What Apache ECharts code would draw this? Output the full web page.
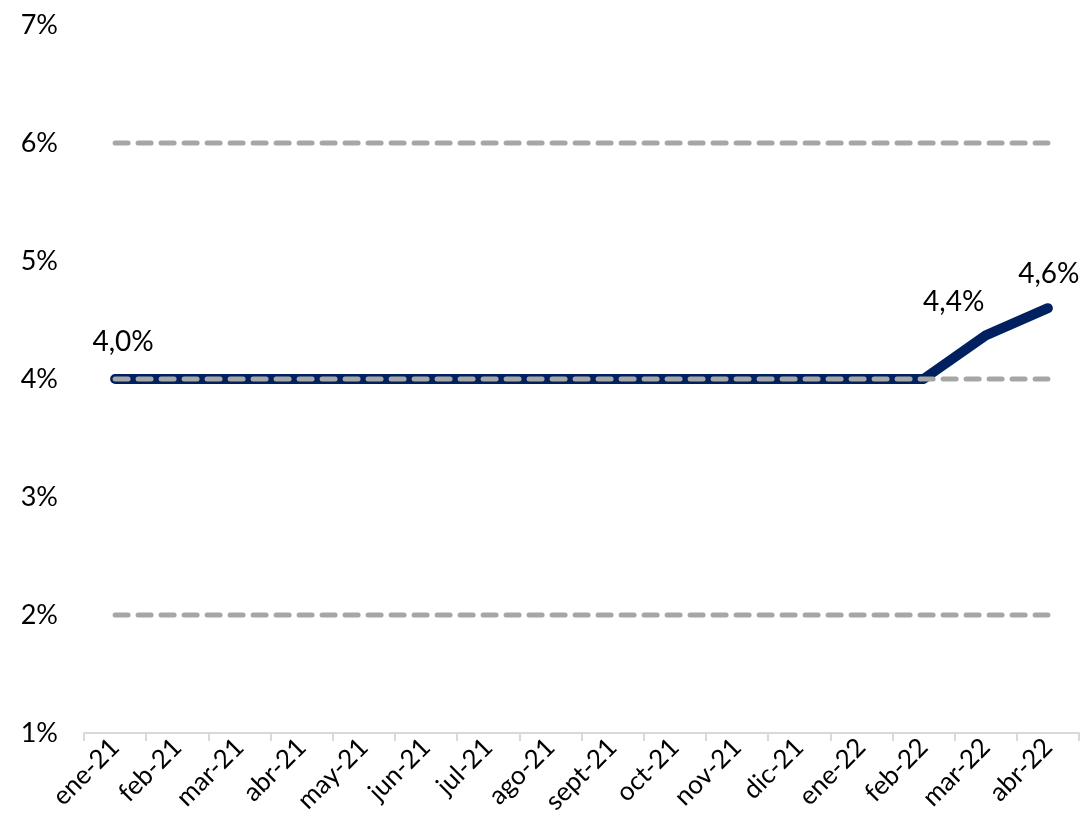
<!DOCTYPE html>
<html>
<head>
<meta charset="utf-8">
<script src="https://cdn.jsdelivr.net/npm/echarts@6/dist/echarts.min.js"></script>
<style>
  html, body { margin: 0; padding: 0; background: #fff; }
  #chart { width: 1081px; height: 825px; }
</style>
</head>
<body>
<div id="chart"></div>
<script>
  // meses
  var months = ['ene-21', 'feb-21', 'mar-21', 'abr-21', 'may-21', 'jun-21', 'jul-21', 'ago-21',
    'sept-21', 'oct-21', 'nov-21', 'dic-21', 'ene-22', 'feb-22', 'mar-22', 'abr-22'];
  // tasa (%)
  var rate = [4.0, 4.0, 4.0, 4.0, 4.0, 4.0, 4.0, 4.0, 4.0, 4.0, 4.0, 4.0, 4.0, 4.0, 4.37, 4.6];
  // rango meta
  var upper = [6, 6, 6, 6, 6, 6, 6, 6, 6, 6, 6, 6, 6, 6, 6, 6];
  var target = [4, 4, 4, 4, 4, 4, 4, 4, 4, 4, 4, 4, 4, 4, 4, 4];
  var lower = [2, 2, 2, 2, 2, 2, 2, 2, 2, 2, 2, 2, 2, 2, 2, 2];
  var labelled = [0, 14, 15];

  var font = 'Lato, "Noto Sans", sans-serif';
  var chart = echarts.init(document.getElementById('chart'));

  var dashStyle = {
    color: '#a6a6a6',
    width: 5,
    type: [13, 10],
    cap: 'round'
  };
  function refLine(data) {
    return {
      type: 'line',
      data: data,
      symbol: 'none',
      silent: true,
      lineStyle: dashStyle,
      z: 3
    };
  }

  // posición de etiqueta relativa al punto
  var labelPos = {
    0: [8, -37],
    14: [-32, -33],
    15: [1, -34]
  };

  chart.setOption({
    animation: false,
    grid: { left: 84, right: 2, top: 25, bottom: 92 },
    xAxis: {
      type: 'category',
      data: months,
      boundaryGap: true,
      axisLine: { lineStyle: { color: '#d9d9d9', width: 2 } },
      axisTick: { show: true, length: 8, lineStyle: { color: '#d9d9d9', width: 2 } },
      axisLabel: {
        rotate: 45,
        interval: 0,
        margin: 10,
        color: '#000',
        fontSize: 26,
        fontFamily: font
      }
    },
    yAxis: {
      type: 'value',
      min: 1,
      max: 7,
      interval: 1,
      splitLine: { show: false },
      axisLine: { show: false },
      axisTick: { show: false },
      axisLabel: {
        formatter: '{value}%',
        color: '#000',
        fontSize: 27,
        fontFamily: font,
        margin: 26
      }
    },
    series: [
      {
        type: 'line',
        data: rate.map(function (v, i) {
          var item = { value: v };
          if (labelPos[i]) {
            item.label = { position: [labelPos[i][0] + 1, labelPos[i][1] + 1] };
          }
          return item;
        }),
        symbol: 'circle',
        symbolSize: 2,
        showSymbol: true,
        itemStyle: { color: 'transparent' },
        lineStyle: { color: '#002060', width: 10, cap: 'round', join: 'round' },
        label: {
          show: true,
          position: 'top',
          align: 'center',
          verticalAlign: 'middle',
          color: '#000',
          fontSize: 28,
          fontFamily: font,
          formatter: function (p) {
            if (labelled.indexOf(p.dataIndex) < 0) return '';
            return p.value.toFixed(1).replace('.', ',') + '%';
          }
        },
        labelLayout: { hideOverlap: false },
        z: 2
      },
      refLine(upper),
      refLine(target),
      refLine(lower)
    ]
  });
</script>
</body>
</html>
